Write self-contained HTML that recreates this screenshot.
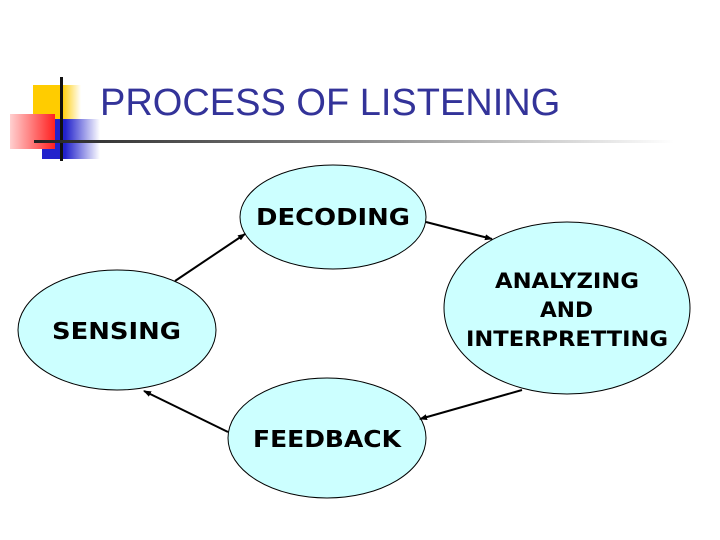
<!DOCTYPE html>
<html><head><style>
body{margin:0;width:720px;height:540px;background:#fff;overflow:hidden;position:relative;font-family:"Liberation Sans",sans-serif}
.a{position:absolute}
</style></head><body>
<div class="a" style="left:33px;top:85px;width:48px;height:42px;background:linear-gradient(90deg,#ffcc00 60%,#fff)"></div>
<div class="a" style="left:42px;top:119px;width:58px;height:40px;background:linear-gradient(90deg,#2222cc 40%,#fff)"></div>
<div class="a" style="left:10px;top:114px;width:45px;height:35px;background:linear-gradient(90deg,#ffd0d0,#ff2020)"></div>
<div class="a" style="left:60px;top:77px;width:3px;height:84px;background:#111"></div>
<div class="a" style="left:34px;top:140px;width:640px;height:3px;background:linear-gradient(90deg,#222,#888 50%,#fff)"></div>
<div class="a" style="left:100px;top:82px;font-size:38px;color:#333399;white-space:nowrap">PROCESS OF LISTENING</div>
<svg class="a" style="left:0;top:0" width="720" height="540">
<defs><marker id="m" markerWidth="8" markerHeight="8" refX="7" refY="4" orient="auto" markerUnits="userSpaceOnUse"><path d="M0,1 L8,4 L0,7z" fill="#000"/></marker></defs>
<g fill="#ccffff" stroke="#000" stroke-width="1">
<ellipse cx="333" cy="217" rx="93" ry="52"/>
<ellipse cx="117" cy="330" rx="99" ry="60"/>
<ellipse cx="567" cy="308" rx="123" ry="86"/>
<ellipse cx="327" cy="438" rx="99" ry="60"/>
</g>
<g stroke="#000" stroke-width="2" marker-end="url(#m)">
<line x1="175" y1="281" x2="245" y2="234"/>
<line x1="426" y1="222" x2="492" y2="239"/>
<line x1="522" y1="390" x2="420" y2="419"/>
<line x1="228" y1="432" x2="144" y2="391"/>
</g>
<g font-family="DejaVu Sans,Verdana,sans-serif" font-weight="bold" fill="#000" lengthAdjust="spacingAndGlyphs">
<text x="256" y="225" font-size="23" textLength="154" lengthAdjust="spacingAndGlyphs">DECODING</text>
<text x="52" y="339" font-size="23" textLength="129" lengthAdjust="spacingAndGlyphs">SENSING</text>
<text x="253" y="447" font-size="23" textLength="148" lengthAdjust="spacingAndGlyphs">FEEDBACK</text>
<text x="495" y="288" font-size="21" textLength="144" lengthAdjust="spacingAndGlyphs">ANALYZING</text>
<text x="540" y="317" font-size="21" textLength="53" lengthAdjust="spacingAndGlyphs">AND</text>
<text x="466" y="346" font-size="21" textLength="202" lengthAdjust="spacingAndGlyphs">INTERPRETTING</text>
</g>
</svg>
</body></html>
